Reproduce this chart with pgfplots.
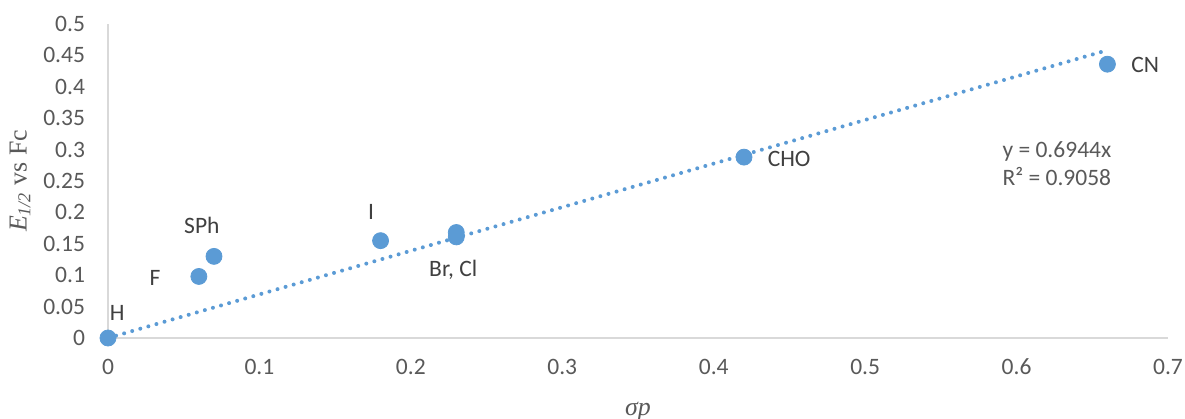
\documentclass[border=0pt]{standalone}
\usepackage{fontspec}
\setmainfont{Carlito}
\newfontfamily\serif{Liberation Serif}
\usepackage{pgfplots}
\pgfplotsset{compat=1.18}
\definecolor{ptblue}{HTML}{5B9BD5}
\definecolor{txtgray}{HTML}{595959}
\definecolor{lblgray}{HTML}{404040}
\definecolor{axgray}{HTML}{D9D9D9}
\begin{document}
\begin{tikzpicture}
\begin{axis}[
  scale only axis, width=530bp, height=157bp,
  xmin=0, xmax=0.7, ymin=0, ymax=0.5,
  axis x line=bottom, axis y line=left,
  axis line style={-, draw=axgray, line width=0.9bp},
  xtick={0,0.1,0.2,0.3,0.4,0.5,0.6,0.7},
  ytick={0,0.05,0.1,0.15,0.2,0.25,0.3,0.35,0.4,0.45,0.5},
  scaled ticks=false,
  major tick length=0pt,
  xticklabel={\pgfmathprintnumber[fixed,precision=2]{\tick}},
  yticklabel={\pgfmathprintnumber[fixed,precision=2]{\tick}},
  /pgf/number format/assume math mode=true,
  tick label style={font=\fontsize{11.8}{14}\selectfont, text=txtgray},
  xticklabel style={yshift=-7bp},
  yticklabel style={xshift=-8bp},
  xlabel={\serif\itshape σp},
  xlabel style={at={(axis description cs:0.5,0)}, anchor=center, yshift=-37bp, text=txtgray, font=\fontsize{13}{15}\selectfont},
  ylabel={\serif\textit{E}\textsubscript{\textit{1/2}} vs Fc},
  ylabel style={at={(axis description cs:0,0.5)}, anchor=center, rotate=0, yshift=44bp, text=txtgray, font=\fontsize{13}{15}\selectfont},
  clip=false,
]
\addplot[draw=ptblue, line width=2bp, line cap=round, dash pattern=on 0pt off 4.2bp, no marks] coordinates {(0,0) (0.66,0.4583)};
\addplot[only marks, mark=*, mark size=4bp, mark options={draw=ptblue, fill=ptblue}] coordinates {
  (0,0) (0.06,0.098) (0.07,0.13) (0.18,0.155) (0.23,0.168) (0.23,0.161) (0.42,0.288) (0.66,0.436)
};
\node[font=\fontsize{11.8}{14}\selectfont, text=lblgray] at (axis cs:0.006,0.040) {H};
\node[font=\fontsize{11.8}{14}\selectfont, text=lblgray] at (axis cs:0.031,0.096) {F};
\node[font=\fontsize{11.8}{14}\selectfont, text=lblgray] at (axis cs:0.062,0.180) {SPh};
\node[font=\fontsize{11.8}{14}\selectfont, text=lblgray] at (axis cs:0.1737,0.2006) {I};
\node[font=\fontsize{11.8}{14}\selectfont, text=lblgray] at (axis cs:0.228,0.108) {Br, Cl};
\node[font=\fontsize{11.8}{14}\selectfont, text=lblgray] at (axis cs:0.4498,0.285) {CHO};
\node[font=\fontsize{11.8}{14}\selectfont, text=lblgray] at (axis cs:0.685,0.435) {CN};
\node[font=\fontsize{11.8}{14}\selectfont, text=txtgray, anchor=base west, inner sep=0pt] at (axis cs:0.5905,0.288) {y = 0.6944x};
\node[font=\fontsize{11.8}{14}\selectfont, text=txtgray, anchor=base west, inner sep=0pt] at (axis cs:0.5905,0.2436) {R² = 0.9058};
\coordinate (bbsw) at (rel axis cs:0,0);
\coordinate (bbne) at (rel axis cs:1,1);
\end{axis}
\pgfresetboundingbox
\path ([shift={(-54bp,-40.5bp)}]bbsw) rectangle ([shift={(8.5bp,12bp)}]bbne);
\end{tikzpicture}
\end{document}
